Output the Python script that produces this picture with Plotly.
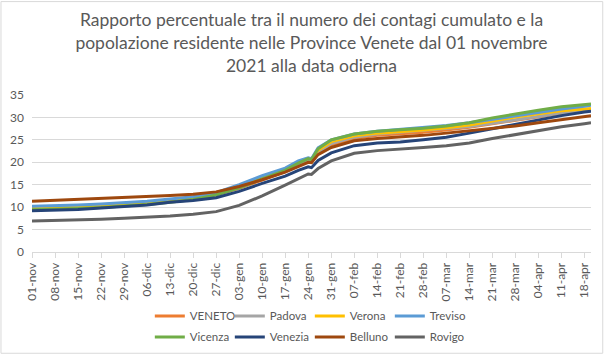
import plotly.graph_objects as go

dates = ["2021-11-01", "2021-11-08", "2021-11-15", "2021-11-22", "2021-11-29",
         "2021-12-06", "2021-12-13", "2021-12-20", "2021-12-27", "2022-01-03",
         "2022-01-10", "2022-01-17", "2022-01-21", "2022-01-24", "2022-01-25",
         "2022-01-27", "2022-01-31", "2022-02-07", "2022-02-14", "2022-02-21",
         "2022-02-28", "2022-03-07", "2022-03-14", "2022-03-21", "2022-03-28",
         "2022-04-04", "2022-04-11", "2022-04-18", "2022-04-20"]

veneto = [9.8, 9.9, 10.1, 10.3, 10.6, 10.9, 11.4, 11.9, 12.8, 14.2, 16.1, 17.9, 19.4, 20.2, 20.0,
          22.0, 23.9, 25.3, 26.0, 26.3, 26.7, 27.2, 27.8, 28.6, 29.4, 30.2, 30.9, 31.5, 31.7]
padova = [10.0, 10.1, 10.3, 10.5, 10.8, 11.1, 11.6, 12.1, 13.0, 14.4, 16.3, 18.1, 19.6, 20.4, 20.2,
          22.2, 24.2, 25.6, 26.3, 26.7, 27.1, 27.5, 28.0, 28.7, 29.5, 30.3, 31.0, 31.5, 31.7]
verona = [9.8, 9.9, 10.1, 10.4, 10.7, 11.0, 11.5, 12.1, 13.0, 14.6, 16.6, 18.4, 20.0, 20.9, 20.7,
          22.7, 24.6, 25.9, 26.5, 26.8, 27.2, 27.7, 28.3, 29.2, 30.1, 30.8, 31.5, 31.9, 32.0]
treviso = [10.2, 10.3, 10.5, 10.7, 11.0, 11.3, 11.8, 12.3, 13.2, 15.0, 17.0, 18.7, 20.3, 21.0, 20.8,
           23.2, 25.0, 26.3, 26.9, 27.3, 27.7, 28.2, 28.8, 29.6, 30.4, 31.2, 31.9, 32.5, 32.7]
vicenza = [9.4, 9.5, 9.7, 9.9, 10.2, 10.6, 11.1, 11.7, 12.7, 14.3, 16.3, 18.2, 19.8, 20.8, 20.6,
           23.0, 25.0, 26.3, 26.9, 27.2, 27.6, 28.1, 28.8, 29.9, 30.8, 31.6, 32.4, 32.9, 33.0]
venezia = [9.2, 9.3, 9.5, 9.8, 10.1, 10.5, 11.1, 11.5, 12.1, 13.5, 15.3, 16.9, 18.2, 19.0, 18.8,
           20.4, 22.1, 23.7, 24.3, 24.5, 25.0, 25.6, 26.5, 27.5, 28.5, 29.5, 30.4, 31.2, 31.4]
belluno = [11.3, 11.5, 11.7, 11.9, 12.1, 12.3, 12.6, 12.9, 13.4, 14.6, 16.1, 17.8, 19.1, 20.0, 19.9,
           21.7, 23.3, 24.8, 25.3, 25.6, 26.0, 26.5, 27.0, 27.5, 28.1, 28.8, 29.5, 30.2, 30.4]
rovigo = [6.9, 7.0, 7.1, 7.3, 7.5, 7.7, 8.0, 8.4, 9.0, 10.4, 12.5, 14.9, 16.3, 17.4, 17.3,
          18.6, 20.3, 22.0, 22.6, 22.9, 23.3, 23.7, 24.3, 25.3, 26.2, 27.0, 27.9, 28.6, 28.8]

tick_dates = ["2021-11-01", "2021-11-08", "2021-11-15", "2021-11-22", "2021-11-29",
              "2021-12-06", "2021-12-13", "2021-12-20", "2021-12-27", "2022-01-03",
              "2022-01-10", "2022-01-17", "2022-01-24", "2022-01-31", "2022-02-07",
              "2022-02-14", "2022-02-21", "2022-02-28", "2022-03-07", "2022-03-14",
              "2022-03-21", "2022-03-28", "2022-04-04", "2022-04-11", "2022-04-18"]
tick_labels = ["01-nov", "08-nov", "15-nov", "22-nov", "29-nov", "06-dic", "13-dic", "20-dic",
               "27-dic", "03-gen", "10-gen", "17-gen", "24-gen", "31-gen", "07-feb", "14-feb",
               "21-feb", "28-feb", "07-mar", "14-mar", "21-mar", "28-mar", "04-apr", "11-apr",
               "18-apr"]

series = [
    ("VENETO", veneto, "#ED7D31", "legend"),
    ("Padova", padova, "#A5A5A5", "legend"),
    ("Verona", verona, "#FFC000", "legend"),
    ("Treviso", treviso, "#5B9BD5", "legend"),
    ("Vicenza", vicenza, "#70AD47", "legend2"),
    ("Venezia", venezia, "#264478", "legend2"),
    ("Belluno", belluno, "#9E480E", "legend2"),
    ("Rovigo", rovigo, "#636363", "legend2"),
]

fig = go.Figure()
for name, vals, color, leg in series:
    fig.add_trace(go.Scatter(x=dates, y=vals, mode="lines", name=name, legend=leg,
                             line=dict(color=color, width=3)))

font_main = "Lato, Calibri, Carlito, sans-serif"
leg_common = dict(orientation="h", xref="paper", x=0.497, xanchor="center",
                  yref="container", yanchor="middle",
                  entrywidth=35, entrywidthmode="pixels", itemwidth=30,
                  font=dict(family=font_main, size=11.5, color="#595959"),
                  bgcolor="rgba(0,0,0,0)", traceorder="normal")

fig.update_layout(
    width=606, height=356,
    margin=dict(l=32, r=15, t=95, b=104, autoexpand=False),
    paper_bgcolor="white", plot_bgcolor="white",
    font=dict(family=font_main, size=12, color="#595959"),
    title=dict(text="Rapporto percentuale tra il numero dei contagi cumulato e la<br>"
                    "popolazione residente nelle Province Venete dal 01 novembre<br>"
                    "2021 alla data odierna",
               x=0.5, xref="paper", xanchor="center",
               yref="container", y=0.926, yanchor="top", automargin=False,
               font=dict(family=font_main, size=17.5, color="#595959")),
    xaxis=dict(type="date", range=["2021-11-01", "2022-04-20"],
               tickvals=tick_dates, ticktext=tick_labels, tickangle=-90,
               showgrid=False, showline=True, linecolor="#D9D9D9", linewidth=1,
               ticks="outside", ticklen=5, tickcolor="#D9D9D9",
               tickfont=dict(size=12, color="#595959"), zeroline=False,
               automargin=False),
    yaxis=dict(range=[0, 35], tickvals=[0, 5, 10, 15, 20, 25, 30, 35],
               showgrid=True, gridcolor="#D9D9D9", gridwidth=1,
               showline=False, zeroline=False, ticks="", ticklen=0,
               ticklabelstandoff=7,
               tickfont=dict(size=12, color="#595959"), automargin=False),
    legend=dict(leg_common, y=0.1124),
    legend2=dict(leg_common, y=0.0534),
    shapes=[dict(type="rect", xref="paper", yref="paper",
                 x0=-0.0555, x1=1.021, y0=-0.645, y1=1.595,
                 line=dict(color="#D9D9D9", width=1), fillcolor="rgba(0,0,0,0)", layer="below")],
)

fig.write_html("out.html", config={"displayModeBar": False},
               post_script="document.body.style.margin='0';document.body.style.overflow='hidden';")
